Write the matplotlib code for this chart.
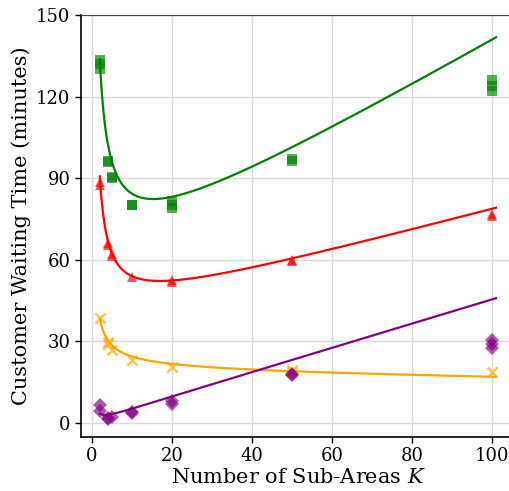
import matplotlib
matplotlib.use('Agg')
import matplotlib.pyplot as plt
import numpy as np

# scattered trial results (K, waiting time in minutes)
green_k = [2, 2, 2, 4, 4, 5, 5, 10, 10, 20, 20, 20, 50, 50, 100, 100, 100]
green_y = [130.0, 132.0, 133.5, 96.0, 96.5, 90.0, 90.5, 80.0, 80.2, 79.0, 80.0, 81.5, 96.3, 97.0, 122.0, 124.0, 126.0]

red_k = [2, 2, 4, 4, 5, 5, 10, 20, 20, 50, 50, 100, 100]
red_y = [87.5, 88.5, 65.5, 66.0, 61.5, 62.0, 53.5, 52.0, 52.5, 59.5, 60.0, 76.0, 77.0]

orange_k = [2, 4, 4, 5, 10, 20, 50, 50, 100]
orange_y = [38.5, 29.0, 29.8, 27.0, 23.2, 20.6, 19.5, 18.8, 18.6]

purple_k = [2, 2, 4, 4, 5, 10, 10, 20, 20, 50, 50, 100, 100, 100]
purple_y = [6.6, 4.4, 1.6, 2.0, 2.2, 3.5, 4.0, 7.0, 8.0, 17.5, 18.0, 27.5, 29.0, 30.5]

# points
green_curve_k = [2, 4.2, 7.1, 12.1, 16.3, 27.1, 42.1, 59.2, 100.8]
green_curve_y = [134.0, 100.4, 88.7, 83.8, 82.9, 85.9, 95.5, 107.7, 142.0]

red_curve_k = [2.1, 4.2, 5.8, 9.6, 14.6, 20, 27.1, 42.1, 50, 100.8]
red_curve_y = [88.7, 65.4, 59.3, 55.0, 53.2, 52.9, 53.4, 57.5, 59.6, 79.5]

orange_curve_k = [2, 4.6, 7.1, 12.1, 27.1, 42.1, 100.8]
orange_curve_y = [38.5, 29.3, 26.2, 23.8, 20.7, 19.5, 17.0]

purple_curve_k = [2.9, 12.1, 14.6, 27.1, 42.1, 100.8]
purple_curve_y = [3.0, 6.2, 7.2, 13.1, 19.5, 45.8]


def smooth_fit(k, y, grid):
    def basis(x):
        x = np.asarray(x, dtype=float)
        return np.column_stack([1 / x, 1 / np.sqrt(x), np.ones_like(x), x])
    coef = np.linalg.lstsq(basis(k), np.asarray(y, dtype=float), rcond=None)[0]
    return basis(grid) @ coef


plt.rcParams['font.family'] = 'DejaVu Serif'
plt.rcParams['mathtext.fontset'] = 'dejavuserif'

fig = plt.figure(figsize=(5.09, 4.91), dpi=100)
ax = fig.add_axes([81 / 509, 54 / 491, 435 / 509, 422 / 491])

grid = np.linspace(2, 101, 400)
series = [
    (green_k, green_y, green_curve_k, green_curve_y, 'green', 's'),
    (red_k, red_y, red_curve_k, red_curve_y, 'red', '^'),
    (orange_k, orange_y, orange_curve_k, orange_curve_y, 'orange', 'x'),
    (purple_k, purple_y, purple_curve_k, purple_curve_y, 'purple', 'D'),
]
for k, y, ck, cy, color, marker in series:
    ax.plot(grid, smooth_fit(ck, cy, grid), color=color, lw=1.6, zorder=2)
    ax.plot(k, y, linestyle='none', marker=marker, color=color,
            ms=7 if marker != '^' else 7.5,
            mew=1.8 if marker == 'x' else 0, alpha=0.65, zorder=3)

ax.set_xlim(-2.7, 106)
ax.set_ylim(-5.15, 150)
ax.set_xticks([0, 20, 40, 60, 80, 100])
ax.set_yticks([0, 30, 60, 90, 120, 150])
ax.grid(True, color='#d9d9d9', lw=1.0)
ax.set_axisbelow(True)
ax.tick_params(labelsize=13, width=1.0, length=4)
ax.set_xlabel('Number of Sub-Areas $K$', fontsize=15, labelpad=2)
ax.set_ylabel('Customer Waiting Time (minutes)', fontsize=15)
for side in ['left', 'bottom']:
    ax.spines[side].set_linewidth(1.2)
ax.spines['top'].set_color('#444444')

plt.savefig('out.png', dpi=100)
